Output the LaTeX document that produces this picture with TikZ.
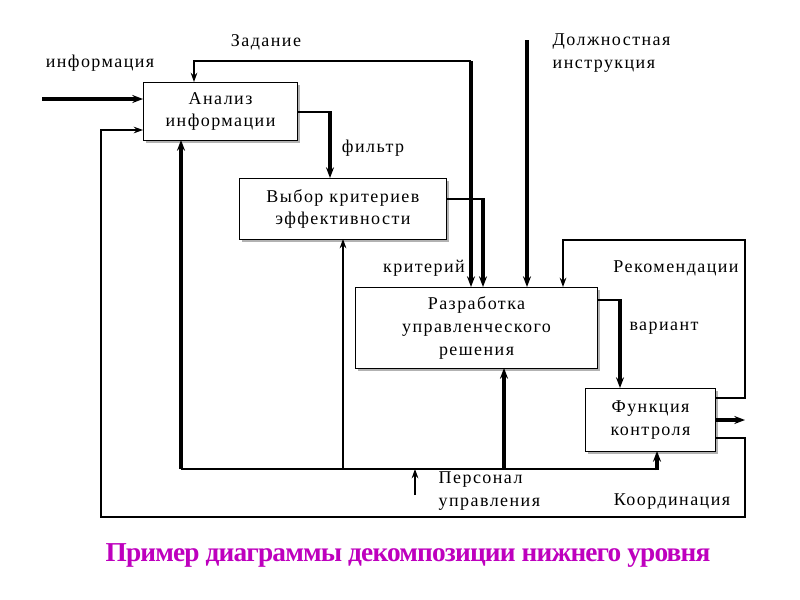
\documentclass[tikz,border=0pt]{standalone}
\usepackage{fontspec}
\setmainfont{Liberation Serif}
\newfontfamily\spaced[LetterSpace=8]{Liberation Serif}
\newfontfamily\tight[LetterSpace=-3]{Liberation Serif}
\usetikzlibrary{arrows.meta}
\definecolor{ttl}{RGB}{190,0,190}
\tikzset{
 blk/.style={draw,line width=0.8pt,fill=white,align=center,font=\spaced\fontsize{13.5}{17}\selectfont,inner sep=0pt},
 shd/.style={fill=gray!60},
 lbl/.style={font=\spaced\fontsize{13.5}{17}\selectfont,align=left},
 thn/.style={line width=1pt,-{Stealth[length=7pt,width=5pt]}},
 thk/.style={line width=2.4pt,-{Stealth[length=8pt,width=6pt]}},
 pl/.style={line width=1pt},
}
\begin{document}
\begin{tikzpicture}[x=0.75pt,y=-0.75pt]
\useasboundingbox (0,0) rectangle (800,600);
% shadows
\fill[shd] (146,85) rectangle (300,143);
\fill[shd] (242,181) rectangle (449,242);
\fill[shd] (358,290) rectangle (600,371);
\fill[shd] (588,391) rectangle (718,454);
\node[blk,minimum width=115.5pt,minimum height=43.5pt,anchor=north west] (a) at (143,82) {Анализ\\информации};
\node[blk,minimum width=155pt,minimum height=45.75pt,anchor=north west] (v) at (239,178) {Выбор критериев\\эффективности};
\node[blk,minimum width=181.5pt,minimum height=60.75pt,anchor=north west] (r) at (355,287) {Разработка\\управленческого\\решения};
\node[blk,minimum width=97.5pt,minimum height=47.25pt,anchor=north west] (f) at (585,388) {Функция\\контроля};
% coordinates
\coordinate (in) at (42,99);
\coordinate (zt) at (471,61);
\coordinate (dt) at (527,40);
\coordinate (bl) at (181,469);
\coordinate (br) at (657,469);
\coordinate (pb) at (415,495);
\coordinate (out) at (745,420);
% input
\draw[thk] (in) -- (in -| a.west);
% feedback loop
\draw[thn] (f.east |- 0,438) -- (745,438) -- (745,517) -- (101,517) -- (101,130) -- (a.west |- 0,130);
% zadanie
\draw[thn] (zt) -- (194,61) -- (194 ,82);
\draw[thk] (zt) -- (471,287);
\draw[thk] (dt) -- (527,287);
% filter
\draw[pl] (a.east |- 0,112) -- (330,112);
\draw[thk] (330,111) -- (330,178);
% kriteriy
\draw[pl] (v.east |- 0,199) -- (483,199);
\draw[thk] (483,198) -- (483,287);
% rekomendatsii
\draw[thn] (f.east |- 0,398) -- (745,398) -- (745,240) -- (563,240) -- (563,287);
% variant
\draw[pl] (r.east |- 0,300) -- (620,300);
\draw[thk] (620,299) -- (620,388);
% output
\draw[thk] (f.east |- out) -- (out);
% bottom bus
\draw[pl] (bl) -- (br);
\draw[thk] (657,470) -- (657,451);
\draw[thk] (bl) -- (181,140);
\draw[thn] (343,468) -- (343,239);
\draw[thk] (504,469) -- (504,368);
\draw[thn] (pb) -- (415,469);
% labels
\node[lbl] (l1) at (266,42) {Задание};
\node[lbl] (l2) at (100,63) {информация};
\node[lbl,anchor=west] (l3) at (548,53) {Должностная\\инструкция};
\node[lbl] (l4) at (373,148) {фильтр};
\node[lbl] (l5) at (424,268) {критерий};
\node[lbl] (l6) at (676,268) {Рекомендации};
\node[lbl] (l7) at (664,328) {вариант};
\node[lbl,anchor=west] (l8) at (434,491) {Персонал\\управления};
\node[lbl] (l9) at (672,502) {Координация};
\node[font=\tight\bfseries\fontsize{20.5}{24}\selectfont,text=ttl] (t) at (408,555) {Пример диаграммы декомпозиции нижнего уровня};
\end{tikzpicture}
\end{document}
